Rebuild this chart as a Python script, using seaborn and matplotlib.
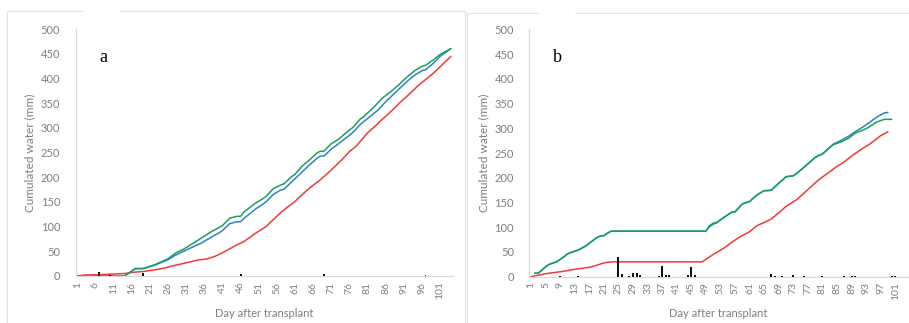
import matplotlib
matplotlib.use("Agg")
import matplotlib.pyplot as plt
from matplotlib.lines import Line2D
import seaborn as sns

# ---- panel a: cumulated water (mm) by day after transplant ----
a_green_day = [1, 14, 16, 17, 19, 20, 22, 23, 26, 28, 29, 30, 32, 35, 38, 40, 41, 43, 45, 46,
               47, 50, 52, 53, 55, 57, 58, 60, 61, 63, 65, 67, 68, 69, 71, 73, 76, 77, 79, 80,
               82, 83, 85, 88, 90, 92, 94, 96, 97, 99, 101, 104]
a_green_val = [0, 0, 10, 15, 15, 17, 22, 25, 35, 46, 50, 53, 62, 76, 90, 98, 102, 117, 121, 121,
               130, 147, 156, 161, 177, 184, 187, 201, 206, 223, 235, 249, 253, 253, 268, 277, 296, 301, 318, 323,
               337, 344, 360, 377, 390, 404, 416, 425, 427, 437, 449, 461]

a_blue_day = [1, 14, 16, 17, 19, 20, 22, 23, 26, 28, 30, 32, 35, 38, 40, 41, 43, 45, 46, 47,
              50, 53, 55, 57, 58, 60, 61, 63, 65, 67, 68, 69, 71, 73, 76, 77, 79, 80, 82, 84,
              86, 88, 90, 92, 94, 96, 97, 99, 101, 104]
a_blue_val = [0, 0, 10, 15, 15, 17, 21, 24, 33, 42, 49, 56, 66, 79, 87, 92, 106, 110, 110, 117,
              135, 150, 165, 174, 176, 190, 197, 211, 225, 238, 243, 243, 257, 268, 285, 291, 307, 313, 325, 337,
              353, 367, 381, 395, 407, 416, 418, 430, 445, 461]

a_red_day = [1, 3, 8, 14, 17, 19, 22, 25, 27, 30, 34, 37, 39, 41, 43, 45, 47, 50, 53, 55,
             57, 59, 61, 63, 65, 68, 70, 72, 74, 76, 78, 81, 83, 85, 88, 90, 92, 95, 97, 99,
             101, 104]
a_red_val = [0, 2, 3, 5, 8, 9, 12, 16, 20, 25, 32, 35, 40, 47, 55, 63, 70, 86, 100, 114,
             128, 140, 151, 165, 178, 195, 208, 222, 236, 252, 264, 290, 303, 317, 337, 352, 365, 386, 398, 410,
             424, 445]

a_bar_day = [7, 10, 17, 19, 41, 45, 46, 57, 69, 80, 97]
a_bar_val = [8, 3, 1, 6, 1, 1, 5, 1, 5, 1, 3]

# ---- panel b ----
b_green_day = [2, 3, 5, 6, 8, 10, 11, 12, 14, 16, 18, 19, 20, 21, 22, 23, 49, 50, 51, 52,
               54, 56, 57, 59, 61, 63, 65, 66, 67, 69, 70, 71, 72, 73, 74, 77, 79, 80, 81, 84,
               86, 88, 90, 92, 93, 96, 98, 100]
b_green_val = [7, 7, 20, 25, 30, 40, 46, 49, 54, 62, 73, 79, 82, 83, 88, 92, 92, 103, 108, 110,
               120, 130, 131, 147, 152, 165, 174, 174, 175, 189, 195, 202, 203, 204, 209, 228, 241, 245, 248, 267,
               272, 279, 290, 296, 299, 313, 318, 318]

b_blue_day = [2, 3, 5, 6, 8, 10, 11, 12, 14, 16, 18, 19, 20, 21, 22, 23, 49, 50, 51, 52,
              54, 56, 57, 59, 61, 63, 65, 66, 67, 69, 70, 71, 72, 73, 74, 77, 79, 80, 81, 84,
              86, 88, 90, 92, 93, 96, 98, 99]
b_blue_val = [7, 7, 20, 25, 30, 40, 46, 49, 54, 62, 73, 79, 82, 83, 88, 92, 92, 101, 106, 109,
              120, 130, 131, 147, 152, 165, 174, 174, 175, 189, 195, 202, 203, 204, 209, 228, 241, 245, 248, 268,
              275, 283, 293, 302, 307, 323, 331, 332]

b_red_day = [1, 5, 8, 10, 13, 17, 19, 21, 23, 48, 51, 54, 56, 58, 61, 63, 66, 67, 69, 71,
             74, 77, 80, 83, 85, 87, 89, 92, 94, 97, 99]
b_red_val = [0, 6, 9, 11, 15, 19, 23, 28, 30, 30, 45, 58, 69, 79, 91, 103, 113, 117, 129, 142,
             156, 176, 196, 212, 223, 232, 244, 259, 268, 285, 293]

b_bar_day = [9, 14, 25, 26, 28, 29, 30, 31, 36, 37, 38, 39, 44, 45, 46, 67, 68, 70, 73, 76,
             81, 87, 89, 90, 100, 101]
b_bar_val = [1, 1, 39, 5, 2, 7, 7, 3, 2, 22, 3, 3, 3, 20, 3, 5, 2, 2, 4, 2,
             1, 1, 1, 2, 2, 2]

a_ticks = list(range(1, 102, 5))
b_ticks = list(range(1, 102, 4))
y_ticks = list(range(0, 501, 50))

GREEN = "#18a05a"
BLUE = "#2f80c8"
RED = "#f03a3a"
AXIS = "#d9d9d9"
TXT = "#7f7f7f"

sns.set_theme(style="white")
plt.rcParams["font.family"] = ["Lato", "DejaVu Sans"]

W, H = 909, 323
fig = plt.figure(figsize=(W / 100, H / 100), dpi=100)


def frac_box(x0, x1, y_top, y_bot):
    return [x0 / W, 1 - y_bot / H, (x1 - x0) / W, (y_bot - y_top) / H]


def draw_panel(ax, series, bar_day, bar_val, ticks, letter):
    for day, val, col in series:
        sns.lineplot(x=day, y=val, ax=ax, color=col, linewidth=1.1,
                     estimator=None, sort=False)
    ax.bar(bar_day, bar_val, width=0.55, color="#111111", edgecolor="none",
           linewidth=0, zorder=3)
    ax.set_xlim(0.5, 104.5)
    ax.set_ylim(0, 500)
    ax.set_xticks(ticks)
    ax.set_xticklabels([str(t) for t in ticks], rotation=90, fontsize=7.5, color=TXT)
    ax.set_yticks(y_ticks)
    ax.set_yticklabels([str(t) for t in y_ticks], fontsize=8, color=TXT)
    ax.tick_params(axis="x", length=0, pad=4)
    ax.tick_params(axis="y", length=0, pad=11)
    for s in ("top", "right"):
        ax.spines[s].set_visible(False)
    for s in ("left", "bottom"):
        ax.spines[s].set_color(AXIS)
        ax.spines[s].set_linewidth(0.9)
    ax.set_xlabel("Day after transplant", fontsize=8, color=TXT, labelpad=6)
    ax.set_ylabel("Cumulated water (mm)", fontsize=8.5, color=TXT, labelpad=4)
    ax.text(0.075, 0.885, letter, transform=ax.transAxes, fontsize=13,
            family="Liberation Serif", color="black", ha="center", va="center")


ax_a = fig.add_axes(frac_box(75.5, 452.7, 29.3, 276.0))
draw_panel(ax_a,
           [(a_red_day, a_red_val, RED), (a_blue_day, a_blue_val, BLUE),
            (a_green_day, a_green_val, GREEN)],
           a_bar_day, a_bar_val, a_ticks, "a")

ax_b = fig.add_axes(frac_box(529.2, 908.0, 29.3, 276.7))
draw_panel(ax_b,
           [(b_red_day, b_red_val, RED), (b_blue_day, b_blue_val, BLUE),
            (b_green_day, b_green_val, GREEN)],
           b_bar_day, b_bar_val, b_ticks, "b")


# light chart-area borders with a gap in the top edge
def fig_line(xs, ys):
    fig.add_artist(Line2D([x / W for x in xs], [1 - y / H for y in ys],
                          color="#e3e3e3", linewidth=0.9))


fig_line([7, 7], [11, H])
fig_line([7, 83], [11, 11])
fig_line([120, 465], [11, 11])
fig_line([465, 465], [11, H])
fig_line([467, 467], [13, H])
fig_line([467, 538], [13, 13])
fig_line([575, W], [13, 13])

fig.savefig("out.png", dpi=100)
